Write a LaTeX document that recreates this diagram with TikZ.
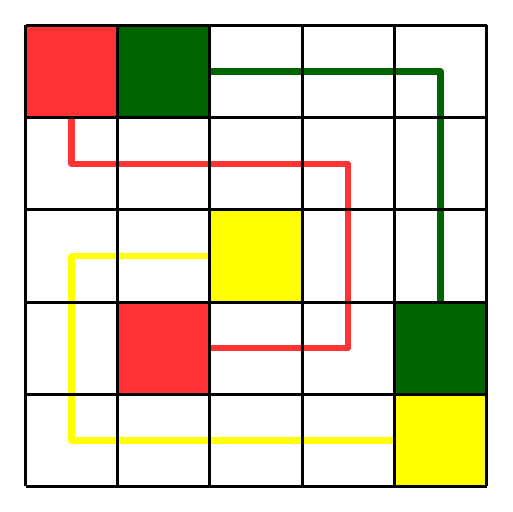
\documentclass[tikz,border=0pt]{standalone}
\definecolor{myred}{HTML}{FF3333}
\definecolor{mygreen}{HTML}{006400}
\definecolor{myyellow}{HTML}{FFFF00}
\begin{document}
\begin{tikzpicture}[cell/.style={minimum size=1cm,inner sep=0pt,outer sep=0pt},
  wire/.style={line width=2pt,line join=round},
  gridline/.style={line width=0.9pt}]
\useasboundingbox (-0.2766,-0.2766) rectangle (5.2766,5.2766);
\node[cell,fill=myred] (R1) at (0.5,4.5) {};
\node[cell,fill=mygreen] (G1) at (1.5,4.5) {};
\node[cell,fill=myyellow] (Y1) at (2.5,2.5) {};
\node[cell,fill=myred] (R2) at (1.5,1.5) {};
\node[cell,fill=mygreen] (G2) at (4.5,1.5) {};
\node[cell,fill=myyellow] (Y2) at (4.5,0.5) {};
\coordinate (Rturn) at (3.5,3.5);
\coordinate (Yturn) at (0.5,0.5);
\draw[wire,mygreen] (G1.east) -| (G2.north);
\draw[wire,myred] (R1.south) |- (Rturn) |- (R2.east);
\draw[wire,myyellow] (Y1.west) -| (Yturn) -- (Y2.west);
\draw[gridline] (0,0) grid (5,5);
\end{tikzpicture}
\end{document}
